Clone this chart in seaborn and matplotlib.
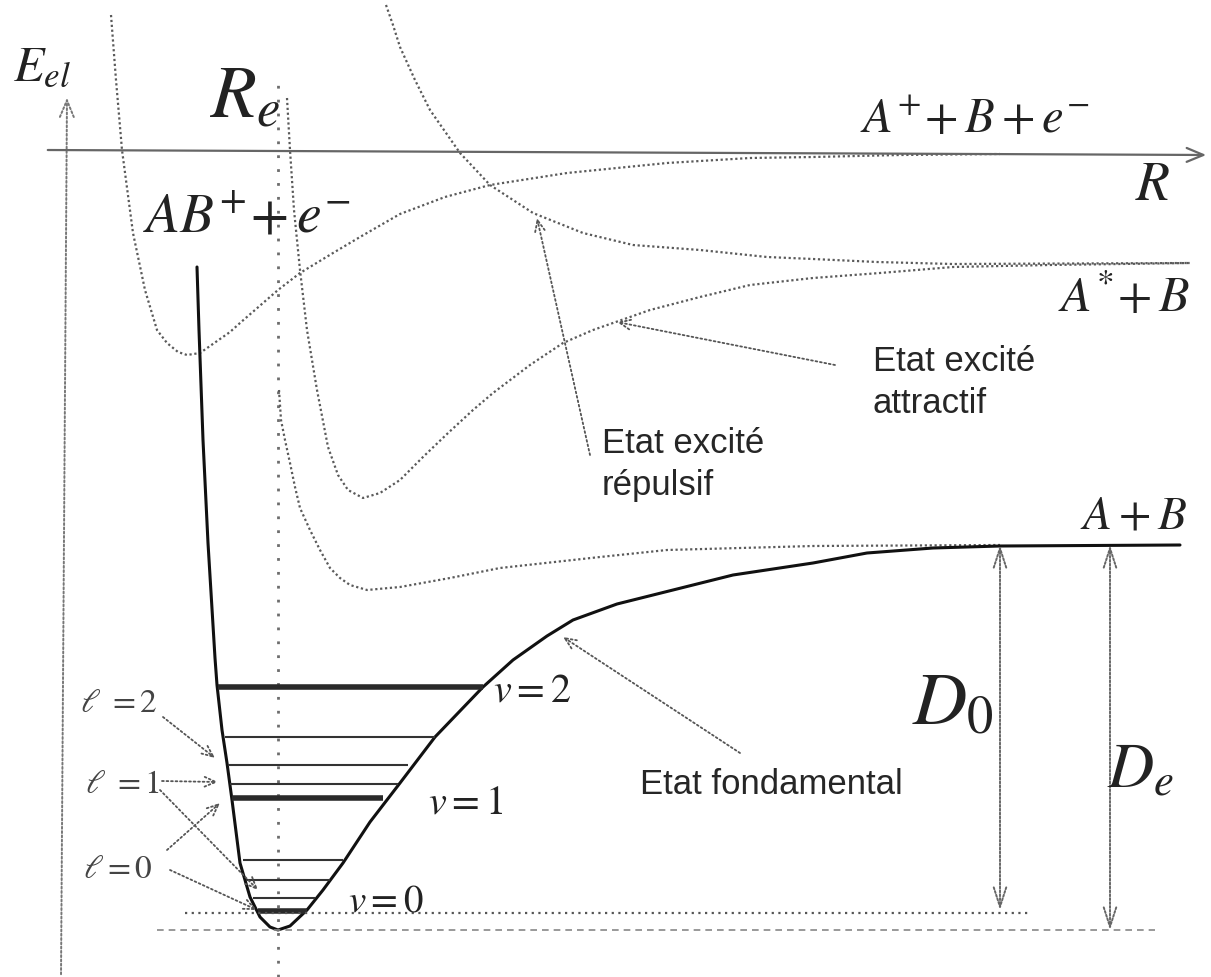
import matplotlib
matplotlib.use("Agg")
import matplotlib.pyplot as plt
import seaborn as sns

sns.set_style("white")
plt.rcParams["mathtext.fontset"] = "stix"
plt.rcParams["font.family"] = ["Liberation Sans", "DejaVu Sans"]

# Ground state potential curve (R, E) -- energy measured from the well bottom
ground_R = [1.33, 1.35, 1.39, 1.44, 1.51, 1.53, 1.58, 1.63, 1.68, 1.76, 1.86, 1.96,
            2.06, 2.14, 2.26, 2.43, 2.59, 2.79, 3.06, 3.36, 3.71, 4.19, 4.49, 4.83,
            5.09, 5.53, 6.09, 6.69, 7.49, 8.03, 8.69, 9.36, 11.16]
ground_E = [6.63, 6.00, 4.90, 3.87, 2.72, 2.45, 2.00, 1.67, 1.30, 0.67, 0.33, 0.13,
            0.03, 0.00, 0.04, 0.20, 0.40, 0.67, 1.08, 1.47, 1.93, 2.43, 2.70, 2.94,
            3.10, 3.26, 3.40, 3.55, 3.67, 3.77, 3.82, 3.84, 3.85]

# Molecular ion AB+ + e-
ion_R = [0.47, 0.52, 0.58, 0.69, 0.81, 0.93, 1.03, 1.14, 1.23, 1.36, 1.66, 1.76,
         2.14, 2.36, 2.69, 2.96, 3.36, 3.81, 4.26, 5.03, 6.03, 6.86, 7.49, 8.36, 9.36]
ion_E = [9.15, 8.50, 7.80, 6.97, 6.40, 6.00, 5.87, 5.78, 5.75, 5.77, 5.98, 6.07,
         6.40, 6.57, 6.77, 6.93, 7.16, 7.33, 7.45, 7.57, 7.67, 7.72, 7.73, 7.75, 7.76]

# Repulsive excited state
rep_R = [3.22, 3.29, 3.36, 3.51, 3.66, 3.96, 4.26, 4.69, 5.19, 5.69, 6.36, 7.03,
         7.49, 8.13, 8.89, 11.26]
rep_E = [9.25, 9.05, 8.83, 8.50, 8.20, 7.77, 7.45, 7.17, 6.97, 6.85, 6.80, 6.73,
         6.71, 6.68, 6.66, 6.67]

# Attractive excited state (A* + B)
att_R = [2.23, 2.26, 2.30, 2.36, 2.43, 2.53, 2.64, 2.74, 2.84, 2.99, 3.16, 3.36,
         3.59, 3.83, 4.09, 4.29, 4.66, 4.99, 5.29, 5.86, 6.36, 6.86, 7.49, 8.16,
         8.89, 9.86, 11.26]
att_E = [8.32, 7.80, 7.20, 6.60, 6.00, 5.40, 4.83, 4.55, 4.40, 4.32, 4.37, 4.50,
         4.73, 4.96, 5.20, 5.37, 5.65, 5.87, 6.00, 6.20, 6.33, 6.45, 6.52, 6.57,
         6.63, 6.65, 6.67]

# Second bound curve converging to A + B
low_R = [2.15, 2.17, 2.21, 2.26, 2.31, 2.36, 2.46, 2.56, 2.66, 2.76, 2.86, 3.03,
         3.36, 3.86, 4.36, 5.36, 6.03, 7.49, 9.36]
low_E = [5.40, 5.10, 4.90, 4.67, 4.43, 4.22, 4.00, 3.80, 3.62, 3.52, 3.45, 3.40,
         3.43, 3.52, 3.62, 3.73, 3.80, 3.84, 3.85]

# Ro-vibrational levels of the ground state: energy, inner / outer turning points
level_E = [2.43, 1.93, 1.65, 1.46, 1.32, 0.70, 0.50, 0.32, 0.19]
level_Rmin = [1.54, 1.61, 1.64, 1.66, 1.68, 1.79, 1.82, 1.89, 1.94]
level_Rmax = [4.19, 3.71, 3.44, 3.34, 3.19, 2.79, 2.66, 2.51, 2.43]
level_is_v = [True, False, False, False, True, False, False, False, True]

R_e = 2.14
E_AB = 3.85          # dissociation limit A + B
E_zero_point = 0.17  # v = 0 level
E_ion = 7.78         # A+ + B + e-

fig = plt.figure(figsize=(12.11, 9.77), dpi=100)
ax = fig.add_axes([0, 0, 1, 1])
ax.set_xlim(-0.64, 11.47)
ax.set_ylim(-0.47, 9.30)
ax.axis("off")

grey = "#5a5a5a"
dot = (0, (1, 1.2))

# Axes of the diagram
ax.annotate("", xy=(0.03, 8.35), xytext=(-0.03, -0.47),
            arrowprops=dict(arrowstyle="->,head_length=1.2,head_width=0.5",
                            color="#777777", lw=1.4, ls=dot))
ax.annotate("", xy=(11.45, E_ion - 0.03), xytext=(-0.19, E_ion + 0.02),
            arrowprops=dict(arrowstyle="->,head_length=1.2,head_width=0.5",
                            color="#666666", lw=1.6))
ax.plot([R_e, R_e], [-0.47, 8.55], color="#6d6d6d", lw=2.0, ls=(0, (1, 4)))

# Potential curves
for xs, ys in [(ion_R, ion_E), (rep_R, rep_E), (att_R, att_E), (low_R, low_E)]:
    sns.lineplot(x=xs, y=ys, sort=False, estimator=None, ax=ax,
                 color=grey, lw=1.6, linestyle=dot)
sns.lineplot(x=ground_R, y=ground_E, sort=False, estimator=None, ax=ax,
             color="#111111", lw=2.2)

# Levels inside the ground-state well
for e, r0, r1, main in zip(level_E, level_Rmin, level_Rmax, level_is_v):
    ax.hlines(e, r0, r1, color="#2a2a2a" if main else "#333333",
              lw=4.0 if main else 1.5)

# Reference energies
ax.hlines(E_zero_point, 1.21, 9.64, color="#555555", lw=1.6, ls=(0, (1, 2)))
ax.hlines(0.0, 0.93, 10.91, color="#888888", lw=1.2, ls=(0, (4, 3)))

# D0 and De arrows
darrow = dict(arrowstyle="<->,head_length=1.4,head_width=0.45",
              color="#666666", lw=1.4, ls=(0, (1, 1)), shrinkA=0, shrinkB=0)
ax.annotate("", xy=(9.36, E_zero_point + 0.03), xytext=(9.36, E_AB),
            arrowprops=darrow)
ax.annotate("", xy=(10.46, 0.0), xytext=(10.46, E_AB), arrowprops=darrow)

# Pointers from the labels
ptr = dict(arrowstyle="->,head_length=0.8,head_width=0.35", color="#555555",
           lw=1.3, ls=(0, (1, 1.5)), shrinkA=0, shrinkB=0)
ax.annotate("", xy=(4.99, 2.93), xytext=(6.76, 1.77), arrowprops=ptr)
ax.annotate("", xy=(5.53, 6.08), xytext=(7.71, 5.65), arrowprops=ptr)
ax.annotate("", xy=(4.73, 7.12), xytext=(5.26, 4.75), arrowprops=ptr)
ax.annotate("", xy=(1.51, 1.72), xytext=(0.99, 2.13), arrowprops=ptr)
ax.annotate("", xy=(1.54, 1.48), xytext=(0.98, 1.49), arrowprops=ptr)
ax.annotate("", xy=(1.94, 0.40), xytext=(0.96, 1.40), arrowprops=ptr)
ax.annotate("", xy=(1.56, 1.27), xytext=(1.03, 0.80), arrowprops=ptr)
ax.annotate("", xy=(1.93, 0.20), xytext=(1.06, 0.60), arrowprops=ptr)

# Labels
tc = "#222222"
ax.text(-0.51, 8.50, r"$E_{el}$", fontsize=36, color=tc, ha="left", va="baseline")
ax.text(1.46, 8.12, r"$R_e$", fontsize=54, color=tc, ha="left", va="baseline")
ax.text(0.79, 6.98, r"$AB^{+}\!+e^{-}$", fontsize=40, color=tc, ha="left", va="baseline")
ax.text(7.96, 7.97, r"$A^{+}\!+B+e^{-}$", fontsize=35, color=tc, ha="left", va="baseline")
ax.text(10.71, 7.30, r"$R$", fontsize=40, color=tc, ha="left", va="baseline")
ax.text(9.94, 6.18, r"$A^{*}\!+B$", fontsize=36, color=tc, ha="left", va="baseline")
ax.text(10.16, 4.02, r"$A+B$", fontsize=34, color=tc, ha="left", va="baseline")
ax.text(8.48, 2.05, r"$D_0$", fontsize=54, color=tc, ha="left", va="baseline")
ax.text(10.43, 1.43, r"$D_e$", fontsize=46, color=tc, ha="left", va="baseline")
ax.text(4.29, 2.28, r"$v=2$", fontsize=29, color=tc, ha="left", va="baseline")
ax.text(3.64, 1.17, r"$v=1$", fontsize=29, color=tc, ha="left", va="baseline")
ax.text(2.84, 0.18, r"$v=0$", fontsize=28, color=tc, ha="left", va="baseline")
ax.text(0.16, 2.18, r"$\ell\ =2$", fontsize=24, color="#444444", ha="left", va="baseline")
ax.text(0.21, 1.37, r"$\ell\ =1$", fontsize=24, color="#444444", ha="left", va="baseline")
ax.text(0.19, 0.52, r"$\ell=0$", fontsize=24, color="#444444", ha="left", va="baseline")

sans = dict(fontsize=25, color="#262626", ha="left", va="top", linespacing=1.35)
ax.text(8.09, 5.85, "Etat excité\nattractif", **sans)
ax.text(5.38, 5.03, "Etat excité\nrépulsif", **sans)
ax.text(5.76, 1.62, "Etat fondamental", **sans)

fig.savefig("out.png", dpi=100)
